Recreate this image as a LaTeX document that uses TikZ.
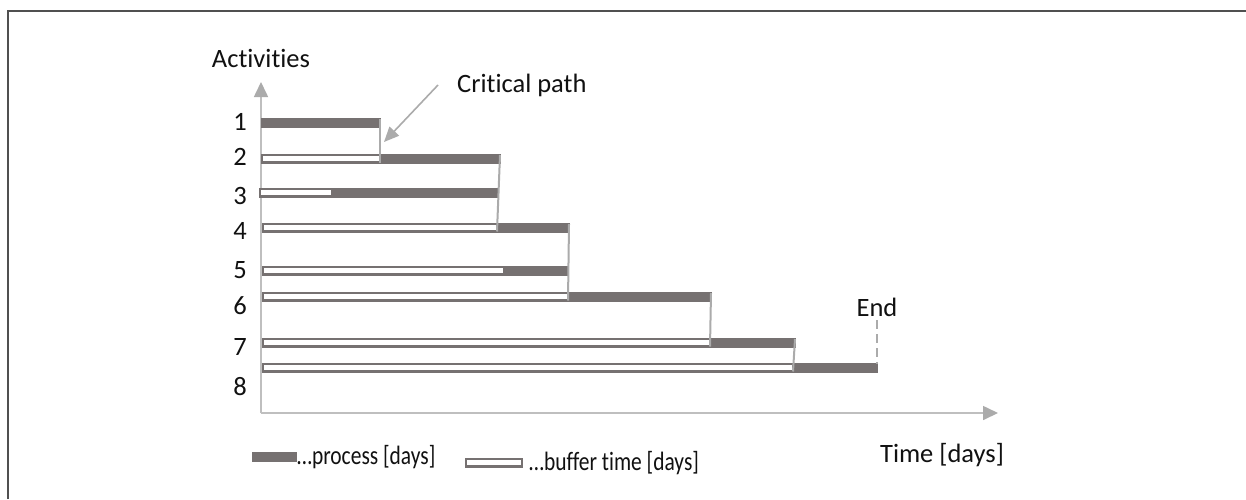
\documentclass[tikz,border=0pt]{standalone}
\usepackage{fontspec}
\usepackage{graphicx}
\setmainfont{Carlito}[Ligatures=NoCommon]
\usetikzlibrary{arrows.meta}
\definecolor{barc}{HTML}{767171}
\definecolor{axisc}{HTML}{BFBFBF}
\definecolor{linkc}{HTML}{ABABAB}
\definecolor{framec}{HTML}{505050}
\definecolor{txt}{HTML}{111111}
\newcommand{\narrowtext}[1]{\scalebox{0.81}[1]{#1}}
\tikzset{
  bar/.style={draw=barc, line width=2.5pt, inner sep=0pt, outer sep=0pt,
              minimum height=7.5pt, anchor=north west},
  proc/.style={bar, fill=barc},
  buf/.style={bar, fill=white},
  lbl/.style={text=txt, inner sep=0pt, font=\fontsize{26.5}{30}\selectfont},
  keylbl/.style={lbl, anchor=west},
  axisline/.style={draw=axisc, line width=1.6pt,
                   -{Triangle[length=15pt,width=14pt,fill=linkc,color=linkc]}},
  link/.style={draw=linkc, line width=2pt},
  pointer/.style={draw=linkc, line width=1.6pt,
                  -{Triangle[length=15pt,width=13pt,fill=linkc,color=linkc]}},
}
\begin{document}
\begin{tikzpicture}[x=1pt,y=-1pt]
\useasboundingbox (0,0) rectangle (1246,499);
\fill[white] (0,0) rectangle (1246,499);
% frame
\draw[framec, line width=2.2pt] (8,499) -- (8,11) -- (1246,11);

% axes
\coordinate (origin) at (261,413);
\coordinate (ytip) at (261,82);
\coordinate (xtip) at (998,413);
\draw[axisline] (origin) -- (ytip);
\draw[axisline] (origin) -- (xtip);
\node[lbl] (ylab) at (261,58) {Activities};
\node[lbl] (xlab) at (942,455) {Time [days]};

% activity numbers
\node[lbl] (n1) at (240,122) {1};
\node[lbl] (n2) at (240,157) {2};
\node[lbl] (n3) at (240,196) {3};
\node[lbl] (n4) at (240,231) {4};
\node[lbl] (n5) at (240,270) {5};
\node[lbl] (n6) at (240,306) {6};
\node[lbl] (n7) at (240,347) {7};
\node[lbl] (n8) at (240,387) {8};

% bars: buffer (white) and process (dark)
\node[proc, minimum width=118pt] (p1) at (262,119) {};
\node[buf,  minimum width=118pt] (b2) at (262,155) {};
\node[proc, minimum width=118pt] (p2) at (382,155) {};
\node[buf,  minimum width=72pt]  (b3) at (260,189) {};
\node[proc, minimum width=164pt] (p3) at (334,189) {};
\node[buf,  minimum width=234pt] (b4) at (263,224) {};
\node[proc, minimum width=70pt]  (p4) at (499,224) {};
\node[buf,  minimum width=241pt] (b5) at (263,267) {};
\node[proc, minimum width=62pt]  (p5) at (506,267) {};
\node[buf,  minimum width=305pt] (b6) at (263,293) {};
\node[proc, minimum width=141pt] (p6) at (570,293) {};
\node[buf,  minimum width=447pt] (b7) at (263,339) {};
\node[proc, minimum width=83pt]  (p7) at (712,339) {};
\node[buf,  minimum width=530pt] (b8) at (263,364) {};
\node[proc, minimum width=82pt]  (p8) at (795,364) {};

% critical path
\draw[link] (p1.north east) -- (b2.south east);
\draw[link] (p2.north east) -- (b4.south east);
\draw[link] (p4.north east) -- (b6.south east);
\draw[link] (p6.north east) -- (b7.south east);
\draw[link] (p7.north east) -- (b8.south east);
\coordinate (endtop) at (877,320);
\draw[link, dashed, dash pattern=on 9pt off 5pt] (endtop) -- (p8.north east);
\node[lbl] (endlab) at (877,307) {End};

\node[lbl, anchor=west] (cplab) at (457,85) {Critical path};
\coordinate (cpfrom) at (438,85);
\coordinate (cpto) at (384,142);
\draw[pointer] (cpfrom) -- (cpto);

% legend
\node[proc, minimum width=43pt] (lp) at (253,453) {};
\node[keylbl] (lptxt) at (297,457) {\narrowtext{…process [days]}};
\node[buf, minimum width=56pt] (lb) at (466,459) {};
\node[keylbl] (lbtxt) at (529,463) {\narrowtext{…buffer time [days]}};
\end{tikzpicture}
\end{document}
